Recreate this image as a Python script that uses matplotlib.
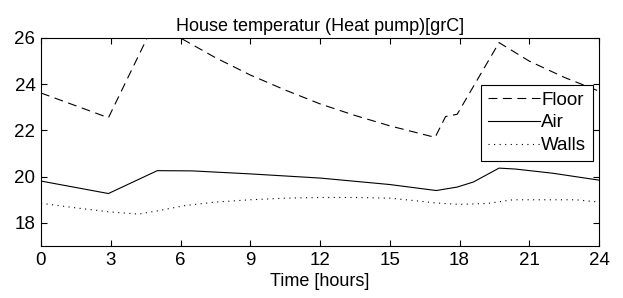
import matplotlib
matplotlib.use("Agg")
import matplotlib.pyplot as plt

# Floor temperature
t_floor = [0, 2.9, 5.0, 6, 7.5, 9, 10.5, 12, 13.5, 15, 16.95, 17.4, 17.9, 19.7, 21, 22.5, 24]
floor = [23.62, 22.55, 26.9, 26.0, 25.15, 24.4, 23.75, 23.15, 22.65, 22.2, 21.7, 22.6, 22.7, 25.8, 25.0, 24.3, 23.7]

# Air temperature
t_air = [0, 2.9, 5.0, 6.5, 9, 12, 15, 17.0, 17.9, 18.6, 19.7, 20.4, 22, 24]
air = [19.81, 19.27, 20.26, 20.25, 20.12, 19.94, 19.66, 19.4, 19.55, 19.77, 20.37, 20.33, 20.15, 19.85]

# Wall temperature
t_walls = [0, 1.5, 3, 4.2, 5, 6.2, 7.5, 9, 10.5, 12, 13.5, 15, 16, 17, 18, 19.2, 20.3, 21.5, 23, 24]
walls = [18.85, 18.65, 18.47, 18.38, 18.52, 18.75, 18.9, 19.0, 19.07, 19.1, 19.1, 19.07, 18.97, 18.86,
         18.8, 18.84, 19.0, 19.0, 19.0, 18.9]

xticks = [0, 3, 6, 9, 12, 15, 18, 21, 24]
yticks = [18, 20, 22, 24, 26]

plt.rcParams["font.family"] = ["Liberation Sans", "DejaVu Sans"]

fig = plt.figure(figsize=(6.23, 2.98), dpi=100)
ax = fig.add_axes([41 / 623, 52 / 298, 558 / 623, 208 / 298])

ax.plot(t_floor, floor, color="black", lw=0.8, linestyle=(0, (8, 5)), label="Floor")
ax.plot(t_air, air, color="black", lw=0.8, label="Air")
ax.plot(t_walls, walls, color="black", lw=0.8, linestyle=(0, (1, 4)), label="Walls")

ax.set_xlim(0, 24)
ax.set_ylim(17, 26)
ax.set_xticks(xticks)
ax.set_yticks(yticks)
ax.tick_params(direction="in", length=4, width=0.8, top=True, right=True, labelsize=13.5, pad=4)
for s in ax.spines.values():
    s.set_linewidth(0.8)

ax.set_title("House temperatur (Heat pump)[grC]", fontsize=13, pad=5)
ax.set_xlabel("Time [hours]", fontsize=13, labelpad=3)

leg = ax.legend(loc="upper right", bbox_to_anchor=(0.989, 0.774), fancybox=False,
                edgecolor="black", framealpha=1, fontsize=13.5, handlelength=2.8,
                handletextpad=0.05, borderpad=0.35, labelspacing=0.3, borderaxespad=0)
leg.get_frame().set_linewidth(0.8)

fig.savefig("out.png", dpi=100)
